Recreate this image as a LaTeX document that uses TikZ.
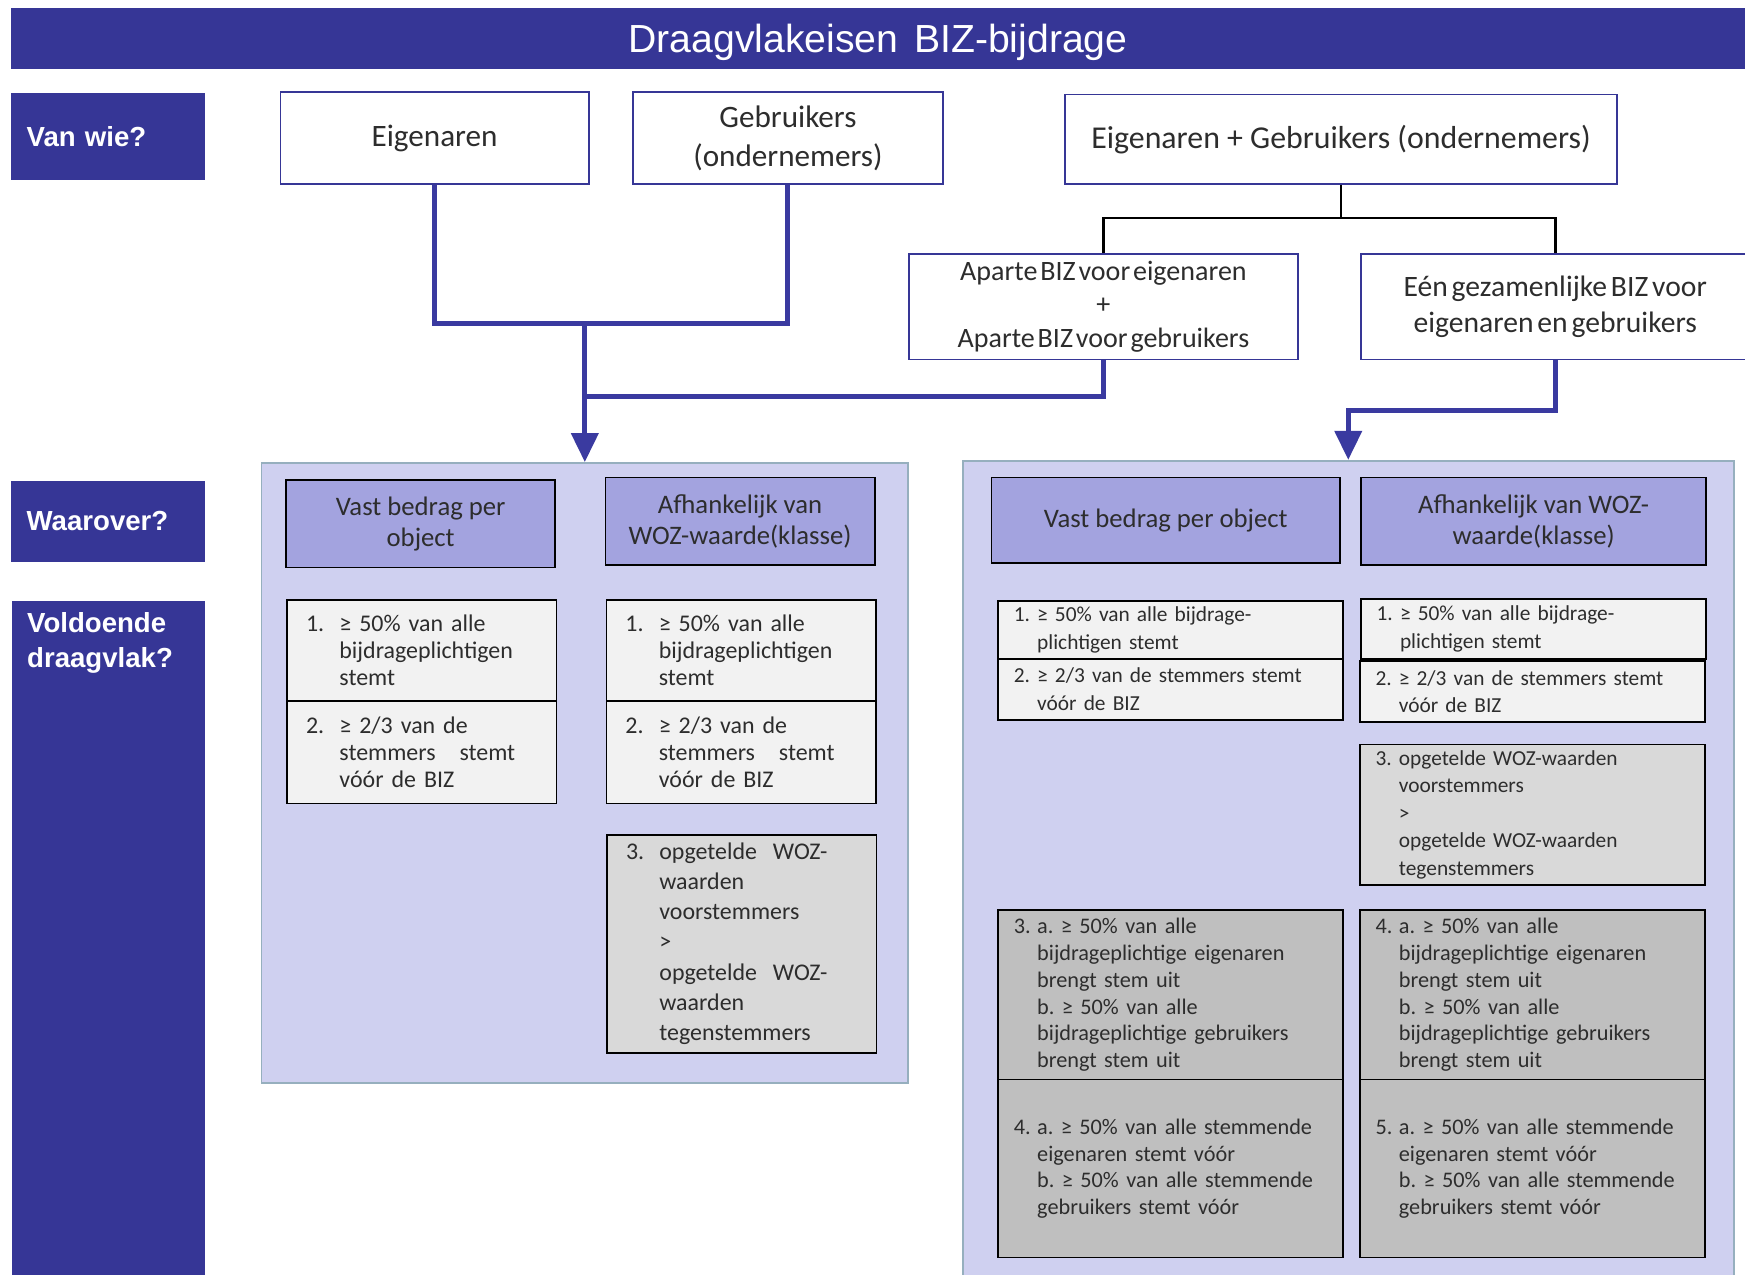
\documentclass[tikz,border=0pt]{standalone}
\usepackage{fontspec}
\setmainfont{Carlito}
\newfontfamily\labfont{Liberation Sans}
\usetikzlibrary{arrows.meta}
\newdimen\ux \ux=0.5pt
\definecolor{dkblue}{RGB}{54,54,150}
\definecolor{lineblue}{RGB}{58,58,160}
\definecolor{contfill}{RGB}{207,208,240}
\definecolor{contedge}{RGB}{150,175,190}
\definecolor{hdrfill}{RGB}{163,163,223}
\definecolor{lightbox}{RGB}{242,242,242}
\definecolor{midbox}{RGB}{217,217,217}
\definecolor{darkbox}{RGB}{191,191,191}
\definecolor{txt}{RGB}{45,45,45}
\newcommand\lind{\hspace*{30\ux}}
\newcommand\lnum[1]{\makebox[30\ux][l]{#1}}
\newcommand\rind{\hspace*{21\ux}}
\newcommand\rnum[1]{\makebox[21\ux][l]{#1}}
\frenchspacing
\hyphenpenalty=10000
\begin{document}
\begin{tikzpicture}[x=0.5pt,y=-0.5pt,
  sz/.style 2 args={minimum width=#1\ux, minimum height=#2\ux},
  titlebar/.style={fill=dkblue, text=white, inner sep=0pt, text height=17.6pt, text depth=5pt,
    font=\labfont\fontsize{17.6}{21}\selectfont},
  lab/.style={fill=dkblue, text=white, inner xsep=14\ux, inner ysep=0pt, text width=146\ux, align=left,
    font=\labfont\bfseries\fontsize{12.4}{15.5}\selectfont},
  topbox/.style={draw=dkblue, line width=0.8pt, fill=white, align=center, inner sep=0pt, text=txt,
    font=\fontsize{14}{17.5}\selectfont},
  midtop/.style={draw=dkblue, line width=0.8pt, fill=white, align=center, inner sep=0pt, text=txt},
  container/.style={draw=contedge, line width=0.8pt, fill=contfill, inner sep=0pt},
  hdr/.style={draw=black, line width=0.8pt, fill=hdrfill, align=center, inner sep=0pt, text=txt,
    font=\fontsize{12}{14}\selectfont},
  lbox/.style={draw=black, line width=0.8pt, align=left, inner xsep=17\ux, inner ysep=0pt, text=txt,
    text width=208\ux, font=\fontsize{10.75}{12.25}\selectfont},
  rbox/.style={draw=black, line width=0.8pt, align=left, inner xsep=14\ux, inner ysep=0pt, text=txt,
    text width=282\ux, font=\fontsize{9.6}{12.4}\selectfont},
  lowbox/.style={rbox, font={\fontsize{10}{12}\selectfont\spaceskip=0.19em\relax}},
  bline/.style={draw=lineblue, line width=2.2pt},
  barrow/.style={draw=lineblue, line width=2.2pt, -{Triangle[width=12pt,length=13pt]}},
  kline/.style={draw=black, line width=1.2pt}
]
\useasboundingbox (0,0) rectangle (1568,1145);
\begin{scope}
\clip (0,0) rectangle (1568,1145);

% title
\node[titlebar, sz={1558}{55}] (title) at (789,34.5) {Draagvlakeisen\hspace{0.12em} BIZ-bijdrage};

% left labels
\node[lab, sz={174}{78}] (vanwie) at (97,123) {Van wie?};
\node[lab, sz={174}{73}] (waarover) at (97,468.5) {Waarover?};
\node[fill=dkblue, text=white, inner sep=0pt, anchor=north west,
  font=\labfont\bfseries\fontsize{12.4}{15.5}\selectfont] (voldoende) at (10,540)
  {\begin{minipage}[t][615\ux][t]{174\ux}\vspace*{10\ux}\leftskip=14\ux Voldoende\\draagvlak?\end{minipage}};

% top boxes
\node[topbox, sz={277}{82}] (eig) at (390.5,124) {Eigenaren};
\node[topbox, sz={278}{82}] (geb) at (708,124) {Gebruikers\\(ondernemers)};
\node[topbox, sz={496}{80}, font=\fontsize{14.3}{17.5}\selectfont] (eiggeb) at (1205,125) {Eigenaren + Gebruikers (ondernemers)};
\node[midtop, sz={349}{95}, font={\fontsize{12.6}{15}\selectfont\spaceskip=0.1em\relax}] (aparte) at (991.5,275.5)
  {Aparte BIZ voor eigenaren\\+\\Aparte BIZ voor gebruikers};
\node[midtop, sz={349}{95}, font={\fontsize{13.3}{16}\selectfont\spaceskip=0.13em\relax}] (een) at (1397.5,275.5)
  {Eén gezamenlijke BIZ voor\\eigenaren en gebruikers};

% containers
\node[container, sz={581}{557}] (lc) at (525.5,694.5) {};
\node[container, sz={693}{745}] (rc) at (1211.5,786.5) {};

% connectors
\coordinate (j1) at (525.5,290);
\coordinate (j2) at (525.5,356);
\coordinate (j3) at (1205,196);
\draw[bline] (eig.south) -- ++(0,125) -| (geb.south);
\draw[bline] (aparte.south) |- (j2);
\draw[barrow] (j1) -- (lc.north);
\draw[kline] (eiggeb.south) -- (j3);
\draw[kline] (aparte.north) |- (j3) -| (een.north);
\draw[barrow] (een.south) -- ++(0,45) -| (rc.north);

% left container
\node[hdr, sz={242}{79}] (lh1) at (378,470.5) {Vast bedrag per\\object};
\node[hdr, sz={242}{79}] (lh2) at (665,468.5) {Afhankelijk van\\WOZ-waarde(klasse)};
\node[lbox, fill=lightbox, minimum height=91\ux] (l1a) at (379,584.5)
  {\lnum{1.}≥ 50\% van alle\\\lind bijdrageplichtigen\\\lind stemt};
\node[lbox, fill=lightbox, minimum height=92\ux] (l1b) at (379,676)
  {\lnum{2.}≥ 2/3 van de\\\lind stemmers\ \ \ stemt\\\lind vóór de\ BIZ};
\node[lbox, fill=lightbox, minimum height=91\ux] (l2a) at (666,584.5)
  {\lnum{1.}≥ 50\% van alle\\\lind bijdrageplichtigen\\\lind stemt};
\node[lbox, fill=lightbox, minimum height=92\ux] (l2b) at (666,676)
  {\lnum{2.}≥ 2/3 van de\\\lind stemmers\ \ \ stemt\\\lind vóór de\ BIZ};
\node[lbox, fill=midbox, minimum height=196\ux, font=\fontsize{10.75}{13.5}\selectfont] (l2c) at (666.5,848)
  {\lnum{3.}opgetelde\ \ WOZ-\\\lind waarden\\\lind voorstemmers\\\lind >\\\lind opgetelde\ \ WOZ-\\\lind waarden\\\lind tegenstemmers};

% right container
\node[hdr, sz={313}{77}] (rh1) at (1047.5,467.5) {Vast bedrag per object};
\node[hdr, sz={310}{79}] (rh2) at (1378,468.5) {Afhankelijk van WOZ-\\waarde(klasse)};
\node[rbox, fill=lightbox, minimum height=52\ux] (r1a) at (1052,566)
  {\rnum{1.}≥ 50\% van alle bijdrage-\\\rind plichtigen stemt};
\node[rbox, fill=lightbox, minimum height=55\ux] (r1b) at (1052,619.5)
  {\rnum{2.}≥ 2/3 van de stemmers stemt\\\rind vóór de BIZ};
\node[rbox, fill=lightbox, minimum height=54\ux] (r2a) at (1378,565)
  {\rnum{1.}≥ 50\% van alle bijdrage-\\\rind plichtigen stemt};
\node[rbox, fill=lightbox, minimum height=55\ux] (r2b) at (1377,621.5)
  {\rnum{2.}≥ 2/3 van de stemmers stemt\\\rind vóór de BIZ};
\node[rbox, fill=midbox, minimum height=126\ux] (r2c) at (1377,732)
  {\rnum{3.}opgetelde WOZ-waarden\\\rind voorstemmers\\\rind >\\\rind opgetelde WOZ-waarden\\\rind tegenstemmers};
\node[lowbox, fill=darkbox, minimum height=152\ux] (r1c) at (1052,894)
  {\rnum{3.}a. ≥ 50\% van alle\\\rind bijdrageplichtige eigenaren\\\rind brengt stem uit\\\rind b. ≥ 50\% van alle\\\rind bijdrageplichtige gebruikers\\\rind brengt stem uit};
\node[lowbox, fill=darkbox, minimum height=160\ux] (r1d) at (1052,1050)
  {\rnum{4.}a. ≥ 50\% van alle stemmende\\\rind eigenaren stemt vóór\\\rind b. ≥ 50\% van alle stemmende\\\rind gebruikers stemt vóór};
\node[lowbox, fill=darkbox, minimum height=152\ux] (r2d) at (1377,894)
  {\rnum{4.}a. ≥ 50\% van alle\\\rind bijdrageplichtige eigenaren\\\rind brengt stem uit\\\rind b. ≥ 50\% van alle\\\rind bijdrageplichtige gebruikers\\\rind brengt stem uit};
\node[lowbox, fill=darkbox, minimum height=160\ux] (r2e) at (1377,1050)
  {\rnum{5.}a. ≥ 50\% van alle stemmende\\\rind eigenaren stemt vóór\\\rind b. ≥ 50\% van alle stemmende\\\rind gebruikers stemt vóór};
\end{scope}
\end{tikzpicture}
\end{document}
